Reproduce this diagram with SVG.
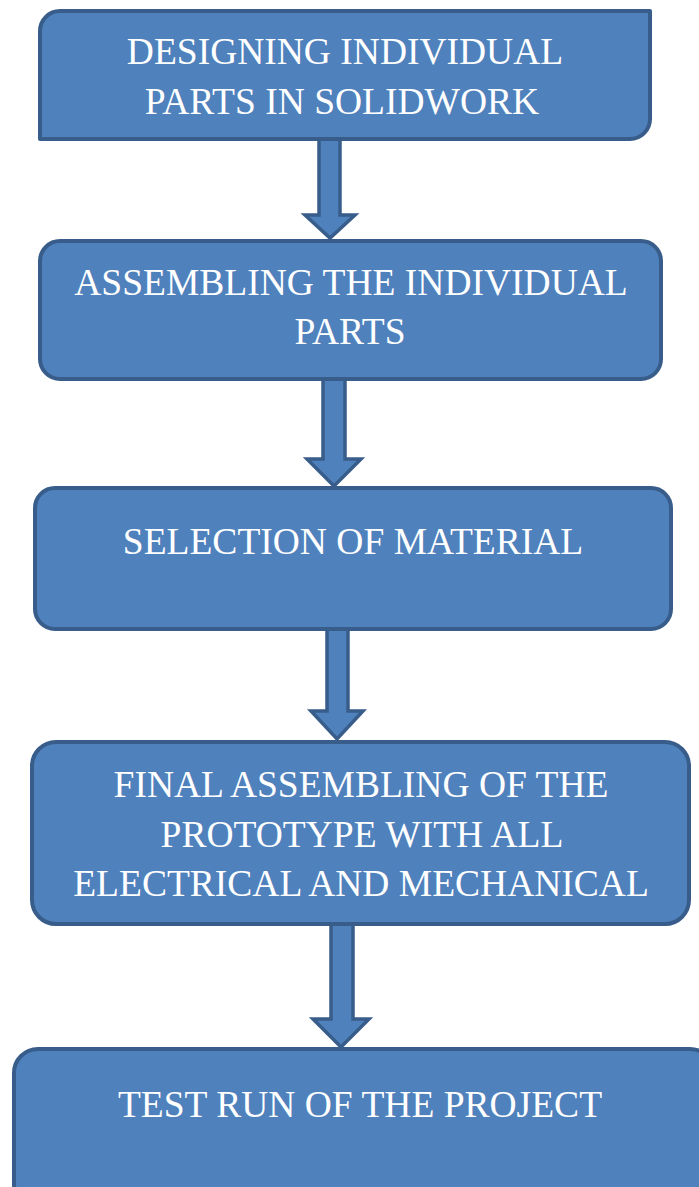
<svg xmlns="http://www.w3.org/2000/svg" width="699" height="1187" viewBox="0 0 699 1187">
<style>
.box{fill:#4F81BD;stroke:#385D8A;stroke-width:4;stroke-linejoin:round}
.arr{fill:#4F81BD;stroke:#385D8A;stroke-width:3.5;stroke-linejoin:miter}
.t{font-family:"Liberation Serif","Times New Roman",serif;font-size:37.5px;fill:#FFFFFF;text-anchor:middle}
</style>
<rect width="699" height="1187" fill="#FFFFFF"/>
<g id="connectors">
<path class="arr" d="M319,139 H340 V215 H355 L330,238 L305,215 H319 Z"/>
<path class="arr" d="M323,379 H345 V459 H361 L334,486 L307,459 H323 Z"/>
<path class="arr" d="M327,629 H348 V711 H363 L337,739 L311,711 H327 Z"/>
<path class="arr" d="M331,924 H353 V1019 H369 L341,1047 L313,1019 H331 Z"/>
</g>
<g id="node1">
<path class="box" d="M40,31 A20,20 0 0 1 60,11 H650 V119 A20,20 0 0 1 630,139 H40 Z"/>
<text class="t" x="345" y="64">DESIGNING INDIVIDUAL</text>
<text class="t" x="342" y="114">PARTS IN SOLIDWORK</text>
</g>
<g id="node2">
<rect class="box" x="40" y="241" width="621" height="138" rx="20" ry="20"/>
<text class="t" x="351" y="295">ASSEMBLING THE INDIVIDUAL</text>
<text class="t" x="350" y="344">PARTS</text>
</g>
<g id="node3">
<rect class="box" x="35" y="488" width="636" height="141" rx="20" ry="20"/>
<text class="t" x="353" y="554">SELECTION OF MATERIAL</text>
</g>
<g id="node4">
<rect class="box" x="32" y="742" width="657" height="182" rx="24" ry="24"/>
<text class="t" x="361" y="797">FINAL ASSEMBLING OF THE</text>
<text class="t" x="362" y="847">PROTOTYPE WITH ALL</text>
<text class="t" x="361" y="896">ELECTRICAL AND MECHANICAL</text>
</g>
<g id="node5">
<rect class="box" x="14" y="1049" width="700" height="160" rx="24" ry="24"/>
<text class="t" x="360" y="1117">TEST RUN OF THE PROJECT</text>
</g>
</svg>
